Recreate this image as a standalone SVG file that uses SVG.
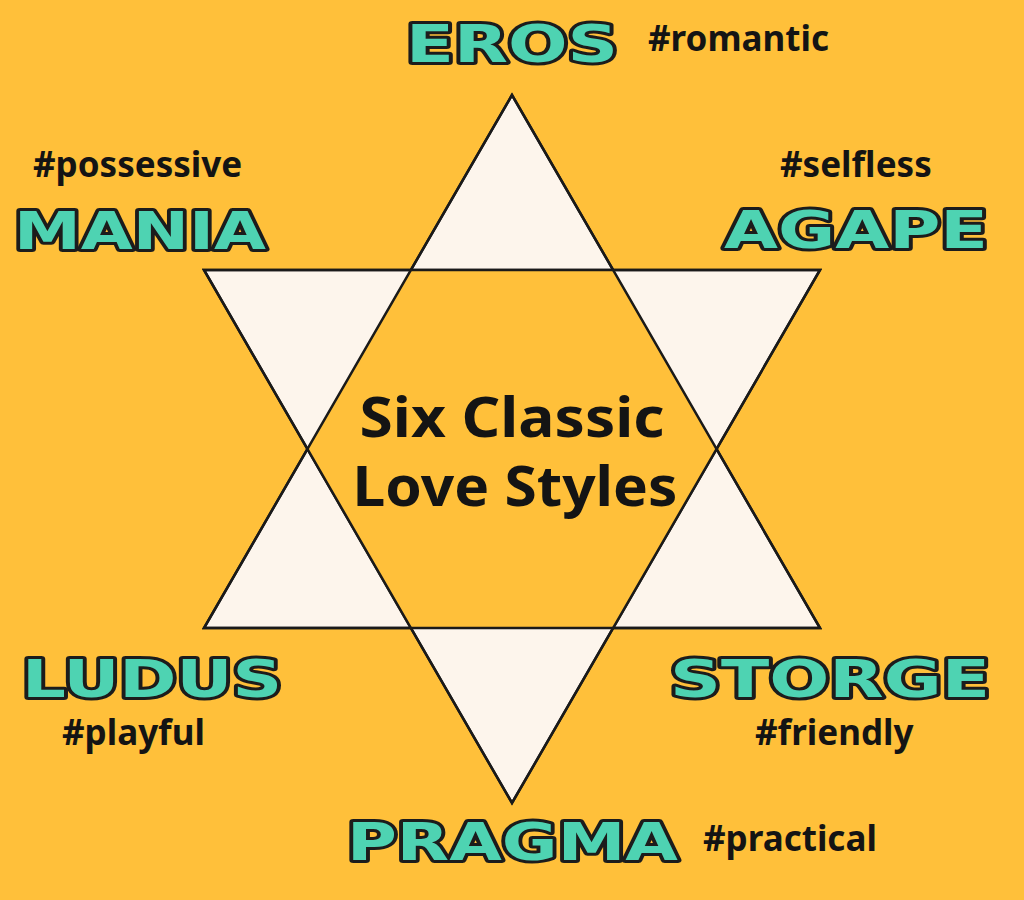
<svg xmlns="http://www.w3.org/2000/svg" width="1024" height="900" viewBox="0 0 1024 900">
<style>
.big{font-family:"DejaVu Sans","Liberation Sans",sans-serif;font-weight:900;font-size:52px;fill:#4ED3B2;stroke:#1c1c1c;stroke-width:6;paint-order:stroke;stroke-linejoin:round}
.tag{font-family:"Noto Sans","Open Sans",sans-serif;font-weight:700;font-size:35px;fill:#141414}
.title{font-family:"Noto Sans","Open Sans",sans-serif;font-weight:700;font-size:55px;fill:#141414;text-anchor:middle}
.tri{fill:#FDF5EC;stroke:#1a1a1a;stroke-width:2.5;stroke-linejoin:miter}
</style>
<rect width="1024" height="900" fill="#FFC03A"/>
<g id="star">
<polygon class="tri" points="512,95 204,628 820,628"/>
<polygon class="tri" points="204,270 820,270 512,803"/>
<polygon points="410,270 614,270 717,449 614,628 410,628 307,449" fill="#FFC03A"/>
<polygon points="512,95 204,628 820,628" fill="none" stroke="#1a1a1a" stroke-width="2.5"/>
<polygon points="204,270 820,270 512,803" fill="none" stroke="#1a1a1a" stroke-width="2.5"/>
</g>
<g id="title">
<text class="title" x="512" y="437" textLength="305" lengthAdjust="spacingAndGlyphs">Six Classic</text>
<text class="title" x="515" y="506" textLength="325" lengthAdjust="spacingAndGlyphs">Love Styles</text>
</g>
<g id="eros"><text class="big" x="406" y="62" textLength="212" lengthAdjust="spacingAndGlyphs">EROS</text><text class="tag" x="648" y="51">#romantic</text></g>
<g id="mania"><text class="big" x="14" y="249" textLength="252" lengthAdjust="spacingAndGlyphs">MANIA</text><text class="tag" x="33" y="177">#possessive</text></g>
<g id="agape"><text class="big" x="724" y="248" textLength="264" lengthAdjust="spacingAndGlyphs">AGAPE</text><text class="tag" x="780" y="177">#selfless</text></g>
<g id="ludus"><text class="big" x="22" y="697" textLength="260" lengthAdjust="spacingAndGlyphs">LUDUS</text><text class="tag" x="62" y="745">#playful</text></g>
<g id="storge"><text class="big" x="670" y="697" textLength="320" lengthAdjust="spacingAndGlyphs">STORGE</text><text class="tag" x="755" y="745">#friendly</text></g>
<g id="pragma"><text class="big" x="347" y="860" textLength="331" lengthAdjust="spacingAndGlyphs">PRAGMA</text><text class="tag" x="703" y="851">#practical</text></g>
<g id="connectors"/>
</svg>
